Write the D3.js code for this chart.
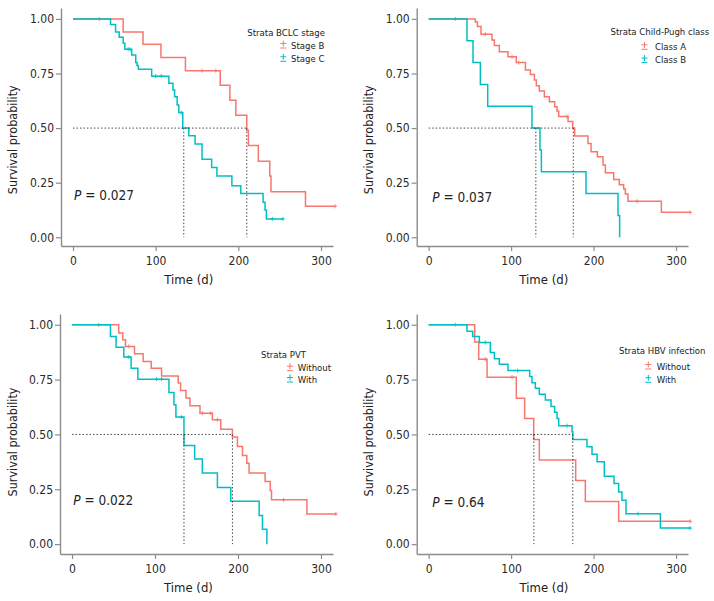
<!DOCTYPE html>
<html><head><meta charset="utf-8">
<script src="https://cdn.jsdelivr.net/npm/d3@7"></script>
<style>
body{margin:0;background:#fff;}
svg{display:block;font-family:"DejaVu Sans Condensed","DejaVu Sans",sans-serif;}
</style></head><body>
<svg id="chart" width="714" height="601"></svg>
<script>
// ---------- DATA ----------
const xTicks = [0, 100, 200, 300];
const yTicks = [0, 0.25, 0.5, 0.75, 1];
const legendTitles = ["Strata BCLC stage", "Strata Child-Pugh class", "Strata PVT", "Strata HBV infection"];
const groupLabels = [["Stage B", "Stage C"], ["Class A", "Class B"], ["Without", "With"], ["Without", "With"]];
const pValues = ["0.027", "0.037", "0.022", "0.64"];

// Panel 1: BCLC stage
const stageBTime = [60.7, 84.7, 106.4, 136, 178.1, 189.8, 197, 210.2, 212.2, 224.2, 238, 239.5, 281.2];
const stageBSurv = [0.940, 0.884, 0.823, 0.763, 0.696, 0.627, 0.559, 0.49, 0.42, 0.348, 0.281, 0.209, 0.142];
const stageBCensor = [31.8, 156, 172.8, 317];
const stageBEnd = 317;
const stageCTime = [45.4, 51.5, 55.9, 60.7, 62.7, 71, 75.9, 77.5, 79.1, 95.2, 116, 120.9, 122.9, 126, 128, 132.8, 140.1, 147.7, 156.1, 167.7, 174.1, 192.2, 203, 229.9, 232.3, 233.9];
const stageCSurv = [0.974, 0.940, 0.916, 0.889, 0.861, 0.835, 0.80, 0.787, 0.769, 0.738, 0.705, 0.674, 0.644, 0.606, 0.571, 0.50, 0.465, 0.427, 0.357, 0.319, 0.281, 0.236, 0.201, 0.160, 0.125, 0.084];
const stageCCensor = [66.7, 69.1, 100, 106.8, 130.8, 241.1, 253.9];
const stageCEnd = 253.9;
const bclcMedians = [210.2, 134];

// Panel 2: Child-Pugh class
const classATime = [56.6, 59.1, 63.5, 76.8, 79.7, 85.7, 96.2, 106.3, 117.3, 123.3, 128.2, 130.6, 134.2, 140.3, 146.4, 152.8, 155.7, 157.7, 169.0, 174.7, 177.1, 193.2, 196.9, 204.6, 211.4, 214.3, 224.4, 231.2, 236.5, 238.5, 241.7, 282.2];
const classASurv = [0.986, 0.965, 0.93, 0.904, 0.878, 0.85, 0.827, 0.80, 0.766, 0.745, 0.72, 0.694, 0.67, 0.644, 0.621, 0.598, 0.578, 0.553, 0.53, 0.50, 0.464, 0.43, 0.392, 0.369, 0.331, 0.296, 0.265, 0.24, 0.221, 0.198, 0.165, 0.114];
const classACensor = [32.4, 68.7, 101.1, 109.2, 167.8, 252.7, 317];
const classAEnd = 317.3;
const classBTime = [46.5, 53.8, 62.7, 71.6, 125.3, 135, 136.7, 190.8, 229.6, 231.6];
const classBSurv = [0.9, 0.8, 0.7, 0.6, 0.5, 0.4, 0.3, 0.2, 0.1, 0];
const classBCensor = [];
const classBEnd = 231.6;
const childPughMedians = [175.4, 130];

// Panel 3: PVT
const pvtWithoutTime = [56.3, 61.2, 64.4, 75.3, 85.7, 95.4, 107.9, 128.0, 130.8, 137.3, 142.1, 154.2, 169.1, 179.2, 193.3, 199.3, 205.4, 210.6, 213.4, 232.7, 238.8, 240.4, 283.1];
const pvtWithoutSurv = [0.962, 0.932, 0.901, 0.868, 0.833, 0.802, 0.766, 0.734, 0.70, 0.666, 0.631, 0.597, 0.567, 0.524, 0.488, 0.445, 0.404, 0.369, 0.324, 0.286, 0.245, 0.202, 0.137];
const pvtWithoutCensor = [32.2, 68.4, 157, 167.1, 175.2, 254.9, 318];
const pvtWithoutEnd = 318;
const pvtWithTime = [46.3, 53.1, 62.4, 71.2, 79.3, 116.8, 122.8, 125.2, 134.9, 147.8, 157, 175.2, 191.3, 225.5, 229.5, 234.8];
const pvtWithSurv = [0.947, 0.897, 0.853, 0.802, 0.752, 0.691, 0.635, 0.579, 0.45, 0.388, 0.324, 0.258, 0.195, 0.131, 0.068, 0];
const pvtWithCensor = [68.4, 101.9, 107.9, 131.7];
const pvtWithEnd = 234.8;
const pvtMedians = [193.3, 134.9];

// Panel 4: HBV infection
const hbvWithoutTime = [55.8, 60.7, 70.8, 106.3, 116.4, 127.4, 134.2, 178.3, 190, 230.4];
const hbvWithoutSurv = [0.921, 0.843, 0.761, 0.665, 0.573, 0.477, 0.383, 0.290, 0.194, 0.104];
const hbvWithoutCensor = [32.4, 68.7, 101.1, 317];
const hbvWithoutEnd = 317.3;
const hbvWithTime = [46.5, 53.4, 61.5, 74.8, 79.7, 85.7, 96.2, 122.5, 125.3, 129.4, 134.2, 141.5, 148.4, 152.8, 155.7, 157.7, 173.9, 174.8, 192, 198.1, 204.2, 213.0, 224.8, 230.4, 234.4, 239.3, 281];
const hbvWithSurv = [0.970, 0.947, 0.919, 0.873, 0.845, 0.82, 0.791, 0.764, 0.736, 0.71, 0.683, 0.657, 0.627, 0.601, 0.573, 0.54, 0.512, 0.477, 0.444, 0.41, 0.375, 0.309, 0.276, 0.238, 0.2, 0.139, 0.073];
const hbvWithCensor = [68.7, 107.9, 167.8, 253.9, 317];
const hbvWithEnd = 317.3;
const hbvMedians = [127.6, 174.8];

// ---------- DRAW ----------
const RED = "#F8766D", TEAL = "#00BFC4";
const AXIS = "#8c8c8c";
const svg = d3.select("#chart");

const panels = [
  {L:61, R:333, T:8, B:246, yDom:[-0.04,1.05], idx:0,
   groups:[{t:stageBTime,s:stageBSurv,c:stageBCensor,e:stageBEnd,col:RED},{t:stageCTime,s:stageCSurv,c:stageCCensor,e:stageCEnd,col:TEAL}],
   med:bclcMedians, pX:74, pY:200, leg:{tx:247.3, ty:35.5, sx:283.3, lx:291, y:[45,58.3]}, yTitleX:17, yTitleY:139.7, xTitleX:188.8, xTitleY:283.5},
  {L:416.7, R:688, T:8, B:246, yDom:[-0.04,1.05], idx:1,
   groups:[{t:classATime,s:classASurv,c:classACensor,e:classAEnd,col:RED},{t:classBTime,s:classBSurv,c:classBCensor,e:classBEnd,col:TEAL}],
   med:childPughMedians, pX:432.3, pY:201.5, leg:{tx:610.5, ty:34.5, sx:644.5, lx:655, y:[46.3,59.6]}, yTitleX:372.7, yTitleY:139.7, xTitleX:543.8, xTitleY:283.5},
  {L:60, R:333, T:314, B:554, yDom:[-0.045,1.049], idx:2,
   groups:[{t:pvtWithoutTime,s:pvtWithoutSurv,c:pvtWithoutCensor,e:pvtWithoutEnd,col:RED},{t:pvtWithTime,s:pvtWithSurv,c:pvtWithCensor,e:pvtWithEnd,col:TEAL}],
   med:pvtMedians, pX:73.3, pY:505, leg:{tx:261, ty:357.5, sx:290, lx:297.7, y:[367.7,379]}, yTitleX:17, yTitleY:442, xTitleX:188.5, xTitleY:591.5},
  {L:416.7, R:688, T:314, B:554, yDom:[-0.045,1.049], idx:3,
   groups:[{t:hbvWithoutTime,s:hbvWithoutSurv,c:hbvWithoutCensor,e:hbvWithoutEnd,col:RED},{t:hbvWithTime,s:hbvWithSurv,c:hbvWithCensor,e:hbvWithEnd,col:TEAL}],
   med:hbvMedians, pX:432.3, pY:506.5, leg:{tx:619, ty:354, sx:648.3, lx:656.7, y:[366,379.3]}, yTitleX:372.7, yTitleY:442, xTitleX:544, xTitleY:591.5}
];

function survAt(g, t) {
  let v = 1;
  for (let i = 0; i < g.t.length; i++) { if (g.t[i] <= t) v = g.s[i]; }
  return v;
}

panels.forEach(p => {
  const x = d3.scaleLinear().domain([-14.5, 314.5]).range([p.L, p.R]);
  const y = d3.scaleLinear().domain(p.yDom).range([p.B, p.T]);
  const g = svg.append("g");

  // axes
  const ya = g.append("g").attr("transform", `translate(${p.L},0)`)
    .call(d3.axisLeft(y).tickValues(yTicks).tickFormat(d3.format(".2f")).tickSize(5).tickSizeOuter(0).tickPadding(2));
  const xa = g.append("g").attr("transform", `translate(0,${p.B})`)
    .call(d3.axisBottom(x).tickValues(xTicks).tickFormat(d3.format("d")).tickSize(5).tickSizeOuter(0).tickPadding(5));
  [ya, xa].forEach(a => {
    a.select(".domain").attr("stroke", AXIS).attr("stroke-width", 1.4);
    a.selectAll(".tick line").attr("stroke", AXIS).attr("stroke-width", 1.2);
    a.selectAll(".tick text").attr("fill", "#2a2a2a").style("font-size", "12px")
      .style("font-family", '"DejaVu Sans Condensed","DejaVu Sans",sans-serif');
  });

  // curves
  const line = d3.line().x(d => x(d[0])).y(d => y(d[1])).curve(d3.curveStepAfter);
  p.groups.forEach(gr => {
    const pts = [[0, 1]];
    gr.t.forEach((t, i) => pts.push([t, gr.s[i]]));
    pts.push([gr.e, gr.s[gr.s.length - 1]]);
    g.append("path").attr("d", line(pts)).attr("fill", "none")
      .attr("stroke", gr.col).attr("stroke-width", 1.5);
    gr.c.forEach(ct => {
      const cx = x(ct), cy = y(survAt(gr, ct));
      g.append("path").attr("d", `M${cx-2},${cy}H${cx+2}M${cx},${cy-2}V${cy+2}`)
        .attr("stroke", gr.col).attr("stroke-width", 0.9).attr("fill", "none");
    });
  });

  // median lines
  const mMax = d3.max(p.med);
  const medStyle = sel => sel.attr("stroke", "#333").attr("stroke-width", 0.9).attr("stroke-dasharray", "1.5,2").attr("fill", "none");
  g.append("line").attr("x1", x(0)).attr("x2", x(mMax)).attr("y1", y(0.5)).attr("y2", y(0.5)).call(medStyle);
  p.med.forEach(m => {
    g.append("line").attr("x1", x(m)).attr("x2", x(m)).attr("y1", y(0.5)).attr("y2", y(0)).call(medStyle);
  });

  // p-value
  const pt = g.append("text").attr("x", p.pX).attr("y", p.pY).attr("fill", "#222").style("font-size", "13.5px");
  pt.append("tspan").attr("font-style", "italic").text("P");
  pt.append("tspan").text(" = " + pValues[p.idx]);

  // legend
  g.append("text").attr("x", p.leg.tx).attr("y", p.leg.ty).attr("fill", "#222").style("font-size", "9.5px").text(legendTitles[p.idx]);
  p.groups.forEach((gr, i) => {
    const cy = p.leg.y[i], sx = p.leg.sx;
    g.append("path").attr("d", `M${sx-3},${cy-1.5}H${sx+3}M${sx},${cy-4.5}V${cy+1.5}M${sx-3},${cy+3}H${sx+3}`)
      .attr("stroke", gr.col).attr("stroke-width", 1).attr("fill", "none");
    g.append("text").attr("x", p.leg.lx).attr("y", cy + 3.5).attr("fill", "#222").style("font-size", "9.5px").text(groupLabels[p.idx][i]);
  });

  // axis titles
  g.append("text").attr("transform", `translate(${p.yTitleX},${p.yTitleY}) rotate(-90)`)
    .attr("text-anchor", "middle").attr("fill", "#222").style("font-size", "12.5px").text("Survival probability");
  g.append("text").attr("x", p.xTitleX).attr("y", p.xTitleY).attr("text-anchor", "middle")
    .attr("fill", "#222").style("font-size", "13px").text("Time (d)");
});
</script>
</body></html>
